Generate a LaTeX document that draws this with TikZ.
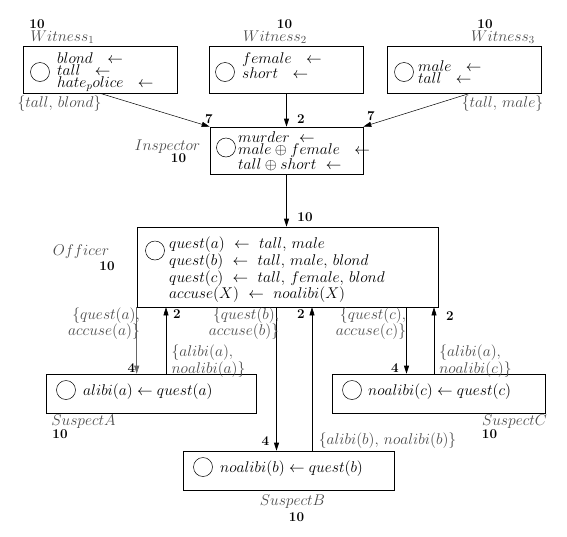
\documentclass[tikz,border=0pt]{standalone}
\usepackage{amsmath}
\usepackage{amssymb}
\usepackage{xcolor}
\usepackage{tikz}
\usetikzlibrary{arrows.meta,positioning}

\begin{document}
\begin{tikzpicture}[
  x=1pt, y=-1pt,
  font=\fontsize{14.4}{11}\selectfont,
  box/.style={draw, line width=0.6pt, inner sep=0pt},
  ring/.style={draw, circle, minimum size=19pt, inner sep=0pt, line width=0.5pt},
  rules/.style={align=left, inner sep=0pt, anchor=west, scale=1.08, transform shape},
  tag/.style={text=black!70, inner sep=0pt, scale=1.08, transform shape},
  num/.style={font=\fontsize{12}{12}\selectfont\bfseries, inner sep=0pt, scale=1.12, transform shape},
  arr/.style={-{Triangle[length=8pt, width=5pt]}, line width=0.6pt},
  node distance=3pt
]
\useasboundingbox (0,0) rectangle (567,536);

% agents
\node[box, minimum width=154pt, minimum height=47pt] (w1) at (100,69.5) {};
\node[box, minimum width=154pt, minimum height=47pt] (w2) at (286.5,69.5) {};
\node[box, minimum width=154pt, minimum height=47pt] (w3) at (464,69.5) {};
\node[box, minimum width=153pt, minimum height=47pt] (insp) at (286.5,150.5) {};
\node[box, minimum width=301pt, minimum height=80pt] (off) at (287.5,267) {};
\node[box, minimum width=210pt, minimum height=39pt] (sa) at (151,393.5) {};
\node[box, minimum width=211pt, minimum height=39pt] (sb) at (288.5,470.5) {};
\node[box, minimum width=213pt, minimum height=39pt] (sc) at (438.5,393.5) {};

% programs
\node[ring] (w1c) at (40,72) {};
\node[rules] (w1r) at (57,72) {$blond\ \ \leftarrow$\\$tall\ \ \leftarrow$\\$hate_police\ \ \leftarrow$};
\node[ring] (w2c) at (225,72) {};
\node[rules] (w2r) at (242,66) {$female\ \ \leftarrow$\\$short\ \ \leftarrow$};
\node[ring] (w3c) at (404,72) {};
\node[rules] (w3r) at (418,72) {$male\ \ \leftarrow$\\$tall\ \ \leftarrow$};
\node[ring] (inspc) at (226,147.5) {};
\node[rules, font=\fontsize{14.4}{11.5}\selectfont] (inspr) at (238,151)
  {$murder\ \leftarrow$\\$male\oplus female\ \ \leftarrow$\\$tall\oplus short\ \leftarrow$};
\node[ring] (offc) at (155,250.5) {};
\node[rules, font=\fontsize{14.4}{13.4}\selectfont] (offr) at (169,270)
  {$quest(a)\ \leftarrow\ tall,\,male$\\$quest(b)\ \leftarrow\ tall,\,male,\,blond$\\%
   $quest(c)\ \leftarrow\ tall,\,female,\,blond$\\$accuse(X)\ \leftarrow\ noalibi(X)$};
\node[ring] (sac) at (66,390) {};
\node[rules] (sar) at (83,392) {$alibi(a)\leftarrow quest(a)$};
\node[ring] (sbc) at (203,467) {};
\node[rules] (sbr) at (220,469) {$noalibi(b)\leftarrow quest(b)$};
\node[ring] (scc) at (352,390) {};
\node[rules] (scr) at (368,392) {$noalibi(c)\leftarrow quest(c)$};

% names and weights
\node[tag] (w1n) at (62.5,37) {$Witness_1$};
\node[num] (w1w) at (37,24.5) {10};
\node[tag] (w2n) at (275,37) {$Witness_2$};
\node[num] (w2w) at (284.5,24.5) {10};
\node[tag] (w3n) at (503,37) {$Witness_3$};
\node[num] (w3w) at (485,24.5) {10};
\node[tag] (inspn) at (167.5,147) {$Inspector$};
\node[num] (inspw) at (178.5,158) {10};
\node[tag] (offn) at (81,252) {$Officer$};
\node[num] (offw) at (107,266) {10};
\node[tag] (san) at (83.5,422) {$SuspectA$};
\node[num] (saw) at (60,434) {10};
\node[tag] (sbn) at (292.5,502) {$SuspectB$};
\node[num] (sbw) at (296.5,517) {10};
\node[tag] (scn) at (514.5,422) {$SuspectC$};
\node[num] (scw) at (489.5,434) {10};

% messages
\draw[arr, line width=0.5pt] (w1.south) -- (insp.north west);
\draw[arr] (w2.south) -- (insp.north);
\draw[arr, line width=0.5pt] ([xshift=6pt]w3.south) -- (insp.north east);
\draw[arr] (insp.south) -- (insp.south |- off.north);
\draw[arr, black!60] (off.south west) -- (off.south west |- sa.north);
\draw[arr] ([xshift=15pt]sa.north) -- ([xshift=15pt]sa.north |- off.south);
\draw[arr] ([xshift=-12pt]sb.north |- off.south) -- ([xshift=-12pt]sb.north);
\draw[arr] ([xshift=23.5pt]sb.north) -- ([xshift=23.5pt]sb.north |- off.south);
\draw[arr] ([xshift=-32pt]sc.north |- off.south) -- ([xshift=-32pt]sc.north);
\draw[arr] ([xshift=-4.5pt]sc.north) -- ([xshift=-4.5pt]sc.north |- off.south);

\node[num] (m1w) at (209,119) {7};
\node[num] (m2w) at (301,119) {2};
\node[num] (m3w) at (371,116) {7};
\node[num] (m4w) at (305,217) {10};
\node[num] (m5w) at (131.5,368) {4};
\node[num] (m6w) at (177,314) {2};
\node[num] (m7w) at (265.5,441) {4};
\node[num] (m8w) at (301,314) {2};
\node[num] (m9w) at (395,368) {4};
\node[num] (m10w) at (450,316) {2};

\node[tag] (m1t) at (59.5,103.5) {$\{tall,\,blond\}$};
\node[tag] (m3t) at (502.5,103.5) {$\{tall,\,male\}$};
\node[tag, align=right] (m5t) at (104,323.5) {$\{quest(a),$\\$accuse(a)\}$};
\node[tag, align=left] (m6t) at (208.5,361) {$\{alibi(a),$\\$noalibi(a)\}$};
\node[tag, align=right] (m7t) at (244,323.5) {$\{quest(b),$\\$accuse(b)\}$};
\node[tag] (m8t) at (387.5,441) {$\{alibi(b),\,noalibi(b)\}$};
\node[tag, align=right] (m9t) at (371,323.5) {$\{quest(c),$\\$accuse(c)\}$};
\node[tag, align=left] (m10t) at (475.5,361) {$\{alibi(a),$\\$noalibi(c)\}$};
\end{tikzpicture}
\end{document}
